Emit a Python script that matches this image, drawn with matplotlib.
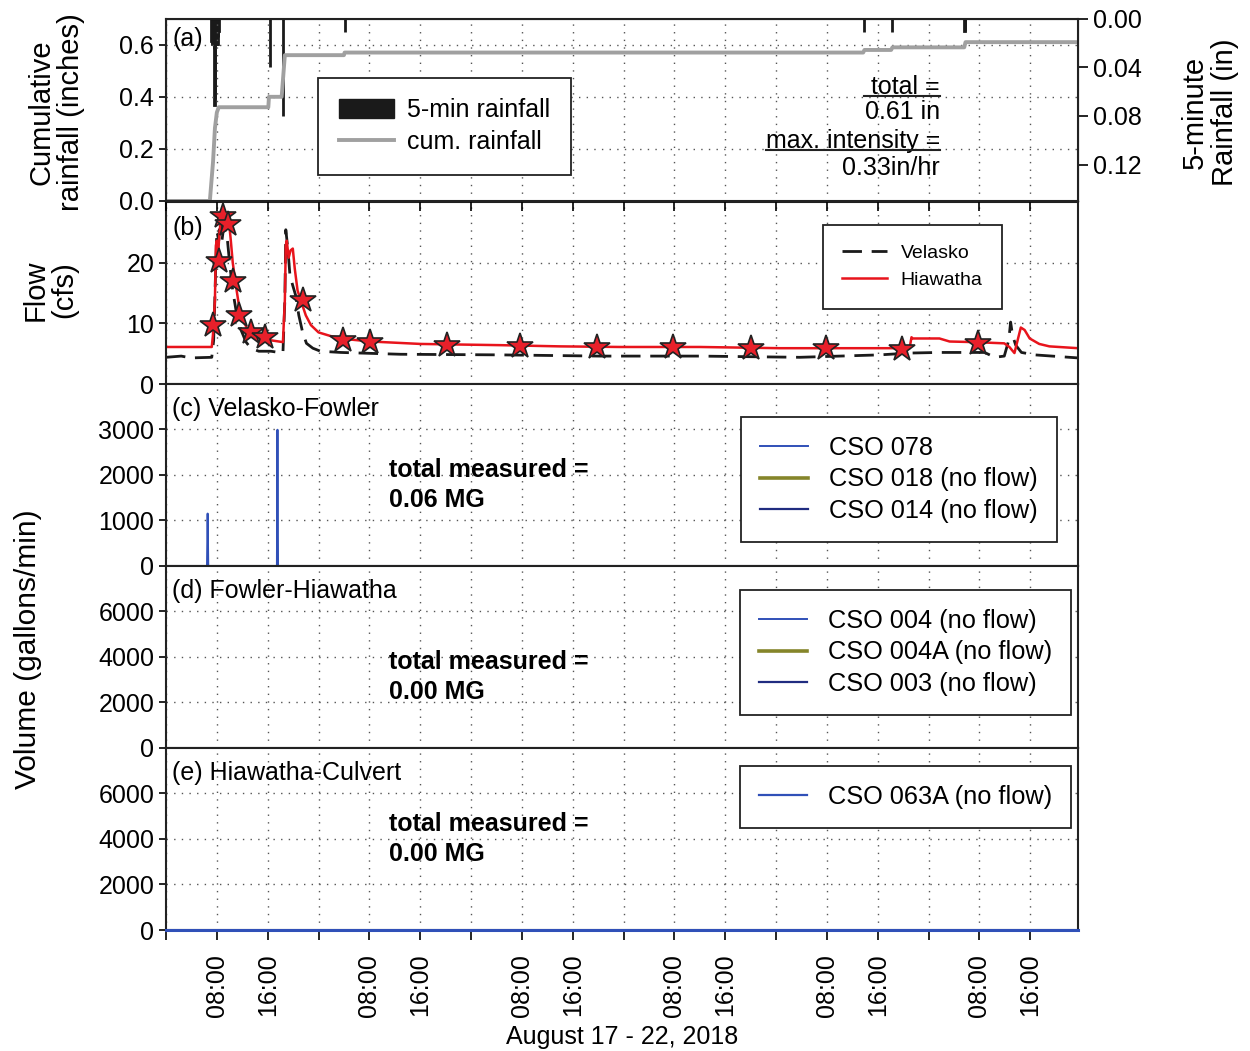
#!/usr/bin/env python3
import numpy as np
import pandas as pd
import matplotlib
matplotlib.use('Agg')
import matplotlib.pyplot as plt
import matplotlib.dates as mdates
from matplotlib.patches import Patch
from matplotlib.lines import Line2D
from matplotlib.ticker import FuncFormatter

plt.rcParams['font.family'] = ['Liberation Sans', 'DejaVu Sans']

t0 = pd.Timestamp('2018-08-17 00:00')
t_end_h = 143.5

# ---- data: hours since Aug 17 00:00 ----
# 5-minute rainfall (in)
rain_h = [7.08, 7.17, 7.25, 7.33, 7.42, 7.50, 7.58, 7.67, 7.75, 7.83, 7.92, 8.00, 8.08, 8.17, 8.25,
          16.33, 18.38, 28.1, 109.8, 114.2, 125.6, 125.7]
rain_in = [0.018, 0.021, 0.021, 0.021, 0.021, 0.025, 0.071, 0.066, 0.021, 0.021, 0.021, 0.021, 0.021, 0.015, 0.010,
           0.040, 0.080, 0.011, 0.011, 0.011, 0.010, 0.010]

# cumulative rainfall (in)
cum_h = [0.0, 6.9, 7.4, 7.7, 8.0, 8.3, 16.1, 16.2, 18.2, 18.7, 28.0, 28.1, 109.7, 109.9, 114.1, 114.3, 125.6, 125.8, t_end_h]
cum_in = [0.0, 0.0, 0.15, 0.28, 0.34, 0.36, 0.36, 0.40, 0.40, 0.56, 0.56, 0.57, 0.57, 0.58, 0.58, 0.59, 0.59, 0.61, 0.61]

# flow (cfs)
hia_h = [0.0, 7.2, 7.38, 7.7, 7.85, 8.0, 8.17, 8.33, 8.64, 9.27, 9.9, 10.2, 10.5, 11.0, 11.47, 12.1, 12.9, 13.8,
         14.9, 16.5, 18.4, 18.7, 18.85, 19.0, 19.3, 19.6, 19.95, 20.26, 20.7, 21.2, 22.0, 22.8, 24.0, 25.9, 28.3,
         32.2, 40.05, 52.6, 62.0, 71.5, 84.0, 96.6, 107.6, 117.0, 117.3, 117.5, 121.7, 123.3, 127.2, 131.9, 132.7,
         133.5, 134.0, 134.5, 135.1, 135.9, 137.4, 139.0, t_end_h]
hia_cfs = [6.1, 6.1, 8.0, 13.8, 22.8, 23.6, 20.0, 23.6, 27.7, 28.0, 26.9, 23.6, 20.0, 16.2, 13.0, 10.5, 8.9, 7.9,
           7.4, 7.2, 6.9, 13.8, 22.8, 23.6, 20.8, 22.0, 22.3, 19.0, 15.4, 13.8, 11.3, 9.7, 8.5, 7.9, 7.4,
           7.0, 6.6, 6.4, 6.2, 6.1, 6.1, 5.9, 5.9, 5.9, 7.7, 7.5, 7.5, 7.0, 6.9, 6.7, 6.1,
           5.1, 7.2, 9.3, 8.9, 7.5, 6.6, 6.2, 5.9]

vel_h = [0.0, 2.4, 3.9, 7.2, 7.5, 7.85, 8.0, 8.3, 8.5, 8.8, 9.1, 9.6, 10.05, 10.5, 11.15, 11.8, 12.6, 13.35, 14.6,
         16.5, 18.4, 18.7, 18.85, 19.2, 19.5, 19.95, 20.4, 20.9, 21.5, 22.1, 23.1, 24.3, 27.5, 36.9, 52.6, 68.3,
         84.0, 99.7, 112.3, 117.0, 121.7, 128.8, 130.4, 131.9, 132.6, 132.9, 133.2, 133.7, 134.6, 136.7, t_end_h]
vel_cfs = [4.4, 4.6, 4.3, 4.4, 7.2, 20.3, 25.2, 23.6, 27.7, 23.6, 26.0, 24.4, 19.5, 15.4, 11.3, 8.9, 6.9, 5.9, 5.4,
           5.4, 5.1, 13.8, 25.4, 22.0, 17.9, 16.2, 14.6, 11.3, 8.5, 6.7, 5.9, 5.4, 5.2, 4.9, 4.8, 4.6,
           4.6, 4.4, 4.8, 5.1, 5.2, 5.2, 4.4, 4.6, 7.2, 10.2, 8.0, 6.4, 5.2, 4.8, 4.3]

# sample times (stars on Hiawatha)
star_h = [7.38, 8.33, 8.95, 9.74, 10.52, 11.47, 13.35, 15.55, 21.52, 27.8, 32.04, 44.14, 55.76, 67.85,
          79.8, 92.04, 103.8, 115.8, 127.7]
star_cfs = [9.7, 20.2, 27.7, 26.4, 17.0, 11.3, 8.5, 7.7, 13.8, 7.2, 7.0, 6.4, 6.2, 6.1,
            6.1, 5.9, 5.9, 5.7, 6.7]

# CSO volumes (gallons/min)
cso078_h = [0.0, 6.45, 6.55, 6.65, 17.45, 17.54, 17.63, t_end_h]
cso078_gpm = [0, 0, 1150, 0, 0, 2990, 0, 0]
zero_h = [0.0, t_end_h]
zero_gpm = [0, 0]

labels_c = ['CSO 078', 'CSO 018 (no flow)', 'CSO 014 (no flow)']
labels_d = ['CSO 004 (no flow)', 'CSO 004A (no flow)', 'CSO 003 (no flow)']
labels_e = ['CSO 063A (no flow)']
totals = ['0.06', '0.00', '0.00']


def tt(h):
    return t0 + pd.to_timedelta(np.asarray(h, dtype=float), unit='h')


c_blue = '#3050b8'
c_olive = '#85852a'
c_navy = '#202c80'
cso_colors = [c_blue, c_olive, c_navy]
cso_widths = [1.4, 2.6, 1.6]
fs = 18

fig = plt.figure(figsize=(12.5, 10.51), dpi=100)
L, W, H = 0.1328, 0.7296, 0.1734
bottoms = [0.8088, 0.6346, 0.4615, 0.2883, 0.1151]
axs = []
for i, b in enumerate(bottoms):
    if i == 0:
        ax = fig.add_axes([L, b, W, H])
    else:
        ax = fig.add_axes([L, b, W, H], sharex=axs[0])
    axs.append(ax)

for ax in axs:
    ax.grid(True, linestyle=(0, (1, 4.5)), color='#555555', linewidth=1.0)
    ax.set_axisbelow(True)
    ax.tick_params(axis='both', labelsize=fs, direction='out', width=1.2)
    ax.tick_params(axis='x', length=7, top=False, pad=10)
    ax.tick_params(axis='y', length=5, right=False)
    for s in ax.spines.values():
        s.set_linewidth(1.5)
        s.set_color('#222222')

# ---- (a) rainfall ----
ax = axs[0]
ax2 = ax.twinx()
ax2.bar(tt(rain_h), rain_in, width=5 / 1440.0, color='#1a1a1a', edgecolor='#1a1a1a', linewidth=2.0, align='edge')
ax2.set_ylim(0.15, 0)
ax2.set_yticks([0.0, 0.04, 0.08, 0.12])
ax2.yaxis.set_major_formatter(FuncFormatter(lambda v, p: '%.2f' % v))
ax2.tick_params(axis='y', labelsize=fs, direction='out', length=7, width=1.2)
ax.plot(tt(cum_h), cum_in, color='#a0a0a0', linewidth=2.8, zorder=2)
ax.set_zorder(ax2.get_zorder() + 1)
ax.patch.set_visible(False)
ax.set_ylim(0, 0.7)
ax.set_yticks([0.0, 0.2, 0.4, 0.6])
ax.yaxis.set_major_formatter(FuncFormatter(lambda v, p: '%.1f' % v))
ax.text(0.007, 0.89, '(a)', transform=ax.transAxes, fontsize=fs, va='center', ha='left')
hnd = [Patch(facecolor='#1a1a1a', edgecolor='#1a1a1a'), Line2D([], [], color='#a0a0a0', linewidth=2.8)]
leg = ax.legend(hnd, ['5-min rainfall', 'cum. rainfall'], loc='upper left', bbox_to_anchor=(0.1667, 0.676),
                fontsize=fs, frameon=True, fancybox=False, framealpha=1, edgecolor='#222222',
                borderpad=0.82, labelspacing=0.32, handlelength=2.2, handleheight=0.8, handletextpad=0.55,
                borderaxespad=0)
leg.get_frame().set_linewidth(1.3)
t1 = ax.text(0.8487, 0.627, ' total =', transform=ax.transAxes, fontsize=fs, ha='right', va='center')
ax.text(0.8487, 0.488, '0.61 in', transform=ax.transAxes, fontsize=fs, ha='right', va='center')
t2 = ax.text(0.8487, 0.331, 'max. intensity =', transform=ax.transAxes, fontsize=fs, ha='right', va='center')
ax.text(0.8487, 0.18, '0.33in/hr', transform=ax.transAxes, fontsize=fs, ha='right', va='center')

# ---- (b) flow ----
ax = axs[1]
ax.plot(tt(vel_h), vel_cfs, color='#1a1a1a', linewidth=2.0, dashes=(7, 3.5), label='Velasko')
ax.plot(tt(hia_h), hia_cfs, color='#e8141c', linewidth=1.8, label='Hiawatha')
ax.plot(tt(star_h), star_cfs, linestyle='none', marker='*', markersize=19, markerfacecolor='#e8202a',
        markeredgecolor='#222222', markeredgewidth=1.2, zorder=5)
ax.set_ylim(0, 30)
ax.set_yticks([0, 10, 20])
ax.text(0.007, 0.855, '(b)', transform=ax.transAxes, fontsize=fs, va='center', ha='left')
leg = ax.legend(loc='upper left', bbox_to_anchor=(0.7204, 0.874), fontsize=14, frameon=True, fancybox=False,
                framealpha=1, edgecolor='#222222', borderpad=1.0, labelspacing=0.5, handlelength=2.3,
                handletextpad=0.7, borderaxespad=0)
leg.get_frame().set_linewidth(1.3)

# ---- (c), (d), (e) CSO volumes ----
panel_titles = ['(c) Velasko-Fowler', '(d) Fowler-Hiawatha', '(e) Hiawatha-Culvert']
total_y = [0.445, 0.39, 0.5]
leg_anchor = [(0.6305, 0.8187), (0.6294, 0.868), (0.6294, 0.901)]

ax = axs[2]
ax.plot(tt(zero_h), zero_gpm, color=c_olive, linewidth=1.2, zorder=1.8)
ax.plot(tt(zero_h), zero_gpm, color=c_navy, linewidth=1.2, zorder=1.9)
ax.plot(tt(cso078_h), cso078_gpm, color=c_blue, linewidth=1.4, zorder=2)
ax.set_ylim(0, 4000)
ax.set_yticks([0, 1000, 2000, 3000])

ax = axs[3]
ax.plot(tt(zero_h), zero_gpm, color=c_blue, linewidth=1.2, zorder=1.7)
ax.plot(tt(zero_h), zero_gpm, color=c_olive, linewidth=1.2, zorder=1.8)
ax.plot(tt(zero_h), zero_gpm, color=c_navy, linewidth=1.2, zorder=1.9)
ax.set_ylim(0, 8000)
ax.set_yticks([0, 2000, 4000, 6000])

ax = axs[4]
ax.plot(tt(zero_h), zero_gpm, color=c_blue, linewidth=2.2, clip_on=False, zorder=3)
ax.set_ylim(0, 8000)
ax.set_yticks([0, 2000, 4000, 6000])

legend_labels = [labels_c, labels_d, labels_e]
for k in range(3):
    ax = axs[k + 2]
    ax.text(0.007, 0.86, panel_titles[k], transform=ax.transAxes, fontsize=fs, va='center', ha='left')
    ax.text(0.2445, total_y[k], 'total measured =\n' + totals[k] + ' MG', transform=ax.transAxes,
            fontsize=fs, fontweight='bold', va='center', ha='left', linespacing=1.3)
    if k < 2:
        hnd = [Line2D([], [], color=cso_colors[j], linewidth=cso_widths[j]) for j in range(3)]
    else:
        hnd = [Line2D([], [], color=c_blue, linewidth=1.6)]
    leg = ax.legend(hnd, legend_labels[k], loc='upper left', bbox_to_anchor=leg_anchor[k], fontsize=18.3,
                    frameon=True, fancybox=False, framealpha=1, edgecolor='#222222', borderpad=0.75,
                    labelspacing=0.3, handlelength=1.9, handletextpad=0.8, borderaxespad=0)
    leg.get_frame().set_linewidth(1.3)

# ---- x axis ----
axs[0].set_xlim(tt([0.0])[0], tt([t_end_h])[0])
axs[0].xaxis.set_major_locator(mdates.HourLocator(byhour=[0, 8, 16]))


def hour_fmt(v, p):
    d = mdates.num2date(v)
    if d.hour == 0:
        return ''
    return d.strftime('%H:%M')


axs[0].xaxis.set_major_formatter(FuncFormatter(hour_fmt))
for ax in axs[:-1]:
    plt.setp(ax.get_xticklabels(), visible=False)
plt.setp(axs[-1].get_xticklabels(), rotation=90, fontsize=fs)
axs[-1].set_xlabel('August 17 - 22, 2018', fontsize=fs, labelpad=6)

# ---- y labels ----
fig.text(0.0448, 0.8934, 'Cumulative\nrainfall (inches)', rotation=90, fontsize=21, ha='center', va='center',
         linespacing=1.05)
fig.text(0.040, 0.724, 'Flow\n(cfs)', rotation=90, fontsize=21, ha='center', va='center', linespacing=1.05)
fig.text(0.968, 0.893, '5-minute\nRainfall (in)', rotation=90, fontsize=21, ha='center', va='center',
         linespacing=1.1)
fig.text(0.0224, 0.3825, 'Volume (gallons/min)', rotation=90, fontsize=21.5, ha='center', va='center')

# underlines for the rainfall summary
fig.canvas.draw()
for t in [t1, t2]:
    bb = t.get_window_extent().transformed(fig.transFigure.inverted())
    yl = bb.y0 + 3.0 / 1051
    fig.add_artist(Line2D([bb.x0, bb.x1], [yl, yl], color='#222222', linewidth=1.5, transform=fig.transFigure))

fig.savefig('out.png', dpi=100)
